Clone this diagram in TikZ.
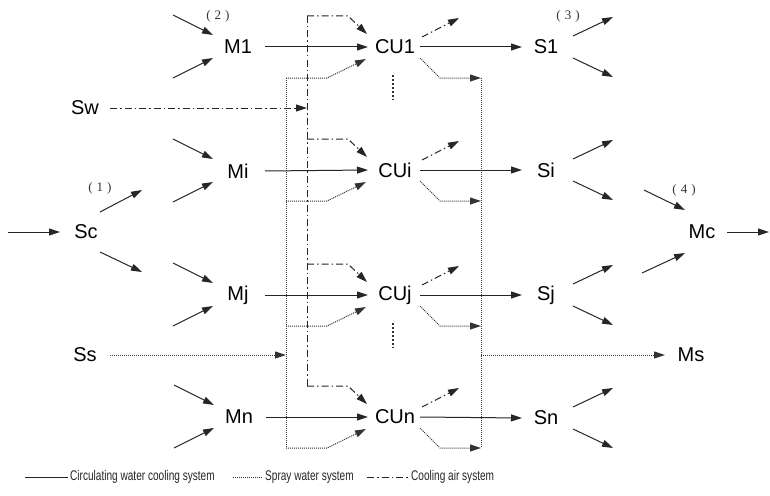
\documentclass[tikz,border=0pt]{standalone}
\usepackage{fontspec}
\setmainfont{Liberation Sans}
\newfontfamily\serifnum{Liberation Serif}
\newfontfamily\narrowfont[FakeStretch=0.72]{Liberation Sans}
\usetikzlibrary{arrows.meta,calc}
\tikzset{
  lbl/.style={inner sep=0pt, font=\fontsize{20}{22}\selectfont, text=black},
  num/.style={inner sep=0pt, font=\serifnum\fontsize{13}{14}\selectfont, text=black!80},
  legtxt/.style={inner sep=0pt, anchor=west, font=\narrowfont\fontsize{14}{16}\selectfont, text=black!85},
  tipped/.style={-{Triangle[length=11pt,width=7pt]}},
  circline/.style={draw=black!85, line width=1pt},
  sprayline/.style={draw=black!80, line width=1pt, dash pattern=on 1pt off 1pt},
  airline/.style={draw=black!85, line width=1pt, dash pattern=on 7pt off 3pt on 1.5pt off 3pt},
  circ/.style={circline, tipped},
  spray/.style={sprayline, tipped},
  air/.style={airline, tipped},
  dotsv/.style={draw=black!80, line width=1.6pt, dash pattern=on 1.5pt off 2.5pt}
}
\begin{document}
\begin{tikzpicture}[x=1pt,y=-1pt]
\useasboundingbox[fill=white] (0,0) rectangle (770,495);

% nodes
\node[lbl] (Sw) at (85,108) {Sw};
\node[lbl] (Sc) at (86,232) {Sc};
\node[lbl] (Ss) at (85,355) {Ss};
\node[lbl] (M1) at (238,47) {M1};
\node[lbl] (Mi) at (238,171) {Mi};
\node[lbl] (Mj) at (238,295) {Mj};
\node[lbl] (Mn) at (239,417) {Mn};
\node[lbl] (CU1) at (395,47) {CU1};
\node[lbl] (CUi) at (395,170) {CUi};
\node[lbl] (CUj) at (395,295) {CUj};
\node[lbl] (CUn) at (395,417) {CUn};
\node[lbl] (S1) at (546,47) {S1};
\node[lbl] (Si) at (546,170) {Si};
\node[lbl] (Sj) at (546,295) {Sj};
\node[lbl] (Sn) at (546,418) {Sn};
\node[lbl] (Mc) at (702,232) {Mc};
\node[lbl] (Ms) at (691,355) {Ms};

\node[num] (n1) at (100,188) {(\hspace{4pt}1\hspace{4pt})};
\node[num] (n2) at (218,16) {(\hspace{4pt}2\hspace{4pt})};
\node[num] (n3) at (568,16) {(\hspace{4pt}3\hspace{4pt})};
\node[num] (n4) at (684,190) {(\hspace{4pt}4\hspace{4pt})};

% reference coordinates for buses
\coordinate (airbus) at ($(CU1)+(-88,0)$);
\coordinate (sprL) at ($(CU1)+(-109,0)$);
\coordinate (sprR) at ($(CU1)+(86,0)$);
\coordinate (scin) at (8,232);
\coordinate (mcout) at (769,232);

% Sc input and outputs
\draw[circ] (scin) -- ($(Sc)+(-26,0)$);
\draw[circ] ($(Sc)+(14,-20)$) -- ($(Sc)+(56,-42)$);
\draw[circ] ($(Sc)+(14,20)$) -- ($(Sc)+(56,40)$);

% M inputs and M -> CU -> S
\foreach \m/\c/\s in {M1/CU1/S1, Mi/CUi/Si, Mj/CUj/Sj, Mn/CUn/Sn} {
  \draw[circ] ($(\m)+(-65,-32)$) -- ($(\m)+(-25,-12)$);
  \draw[circ] ($(\m)+(-65,31)$) -- ($(\m)+(-25,11)$);
  \draw[circ] ($(\m)+(27,0)$) -- ($(\c)+(-27,0)$);
  \draw[circ] ($(\c)+(25,0)$) -- ($(\s)+(-24,0)$);
  \draw[circ] ($(\s)+(27,-11)$) -- ($(\s)+(67,-30)$);
  \draw[circ] ($(\s)+(27,11)$) -- ($(\s)+(67,30)$);
  % cooling air in / out
  \draw[air] ($(\c)+(-88,-31)$) -- ($(\c)+(-47,-31)$) -- ($(\c)+(-28,-13)$);
  \draw[air] ($(\c)+(27,-10)$) -- ($(\c)+(64,-29)$);
  % spray water in / out
  \draw[spray] ($(\c)+(-109,31)$) -- ($(\c)+(-68,31)$) -- ($(\c)+(-29,12)$);
  \draw[spray] ($(\c)+(25,11)$) -- ($(\c)+(45,31)$) -- ($(\c)+(86,31)$);
}

% buses
\draw[airline] ($(CU1)+(-88,-31)$) -- ($(CUn)+(-88,-31)$);
\draw[sprayline] ($(CU1)+(-109,31)$) -- ($(CUn)+(-109,31)$);
\draw[sprayline] ($(CU1)+(86,31)$) -- ($(CUn)+(86,31)$);

% Sw, Ss, Ms
\draw[air] ($(Sw)+(25,0)$) -- (Sw -| airbus);
\draw[spray] ($(Ss)+(25,0)$) -- (Ss -| sprL);
\draw[spray] (Ms -| sprR) -- ($(Ms)+(-26,0)$);

% Mc
\draw[circ] ($(Mc)+(-58,-42)$) -- ($(Mc)+(-17,-22)$);
\draw[circ] ($(Mc)+(-60,41)$) -- ($(Mc)+(-17,21)$);
\draw[circ] ($(Mc)+(25,0)$) -- (mcout);

% vertical ellipses
\draw[dotsv] ($(CU1)+(-2,28)$) -- ($(CU1)+(-2,53)$);
\draw[dotsv] ($(CUj)+(-2,28)$) -- ($(CUj)+(-2,53)$);

% legend
\node[legtxt] (leg1) at (70,477) {Circulating water cooling system};
\node[legtxt] (leg2) at (265,477) {Spray water system};
\node[legtxt] (leg3) at (411,477) {Cooling air system};
\draw[circline] ($(leg1.west)+(-45,0)$) -- ($(leg1.west)+(-2,0)$);
\draw[sprayline] ($(leg2.west)+(-32,0)$) -- ($(leg2.west)+(-2,0)$);
\draw[airline] ($(leg3.west)+(-44,0)$) -- ($(leg3.west)+(-3,0)$);
\end{tikzpicture}
\end{document}
